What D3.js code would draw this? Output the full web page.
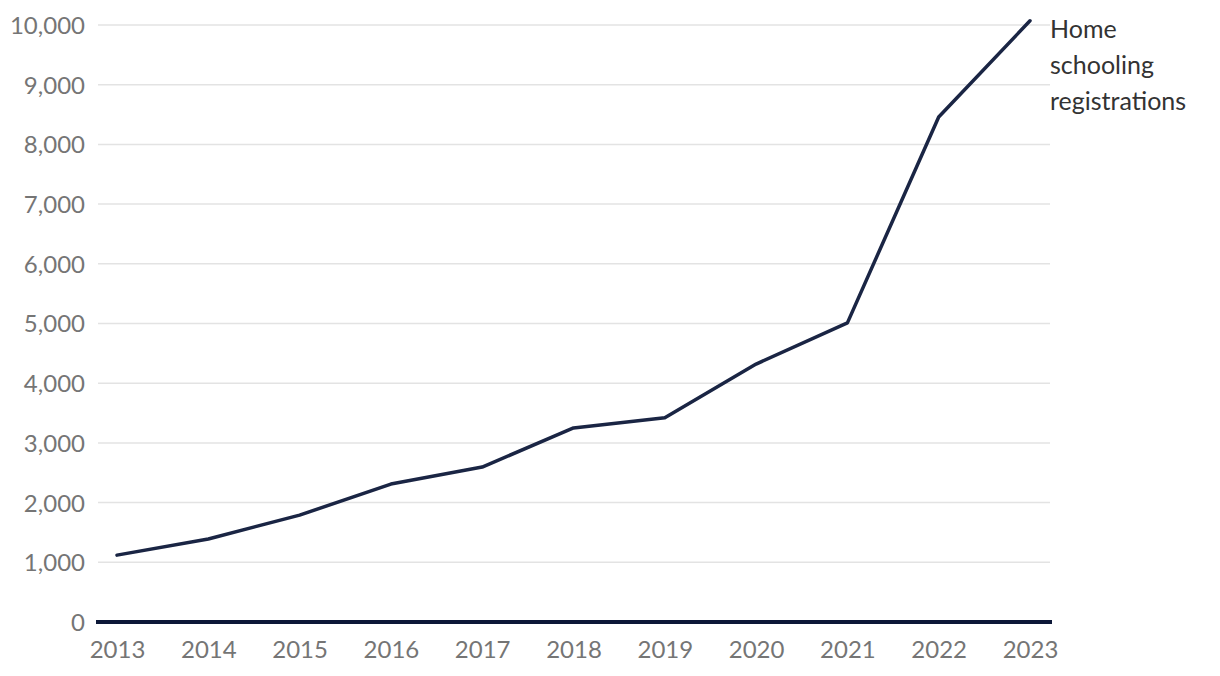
<!DOCTYPE html>
<html><head><meta charset="utf-8">
<script src="https://cdn.jsdelivr.net/npm/d3@7"></script>
<style>
html,body{margin:0;padding:0;background:#fff;}
svg{display:block;font-family:"Lato","Noto Sans",sans-serif;}
</style></head>
<body><svg id="c" width="1220" height="676"></svg>
<script>
const years = [2013,2014,2015,2016,2017,2018,2019,2020,2021,2022,2023];
const registrations = [1120,1390,1790,2310,2595,3250,3420,4320,5010,8460,10070];
const yTicks = [0,1000,2000,3000,4000,5000,6000,7000,8000,9000,10000];
const seriesLabel = ["Home","schooling","registrations"];

const svg = d3.select("#c");
const x = d3.scaleLinear().domain([2013,2023]).range([117,1030]);
const y = d3.scaleLinear().domain([0,10000]).range([622,25]);
const gridX0 = 98, gridX1 = 1050;

svg.append("g").selectAll("line").data(yTicks.filter(d=>d>0)).join("line")
  .attr("x1",gridX0).attr("x2",gridX1)
  .attr("y1",d=>y(d)).attr("y2",d=>y(d))
  .attr("stroke","#e3e3e3").attr("stroke-width",1.5);

const yAxis = d3.axisLeft(y).tickValues(yTicks).tickSize(0).tickPadding(0)
  .tickFormat(d3.format(","));
const gy = svg.append("g").attr("transform","translate(85,0)").call(yAxis);
gy.select(".domain").remove();
gy.selectAll("text").attr("fill","#757575").style("font-size","24px").attr("dy","0.35em")
  .style("font-family",'"Lato","Noto Sans",sans-serif');

const xAxis = d3.axisBottom(x).tickValues(years).tickSize(0).tickPadding(0).tickFormat(d3.format("d"));
const gx = svg.append("g").attr("transform","translate(0,650)").call(xAxis);
gx.select(".domain").remove();
gx.selectAll("text").attr("fill","#757575").style("font-size","24px").attr("dy","0.35em")
  .style("font-family",'"Lato","Noto Sans",sans-serif');

svg.append("line").attr("x1",96).attr("x2",1052).attr("y1",y(0)).attr("y2",y(0))
  .attr("stroke","#0d1838").attr("stroke-width",4);

const line = d3.line().x((d,i)=>x(years[i])).y(d=>y(d));
svg.append("path").datum(registrations).attr("d",line)
  .attr("fill","none").attr("stroke","#1a2544").attr("stroke-width",3.5)
  .attr("stroke-linejoin","round").attr("stroke-linecap","round");

const lab = svg.append("text").attr("x",1050).attr("y",y(10070)+17)
  .attr("fill","#333").style("font-size","25px");
lab.selectAll("tspan").data(seriesLabel).join("tspan")
  .attr("x",1050).attr("dy",(d,i)=>i===0?0:36).text(d=>d);
</script></body></html>
